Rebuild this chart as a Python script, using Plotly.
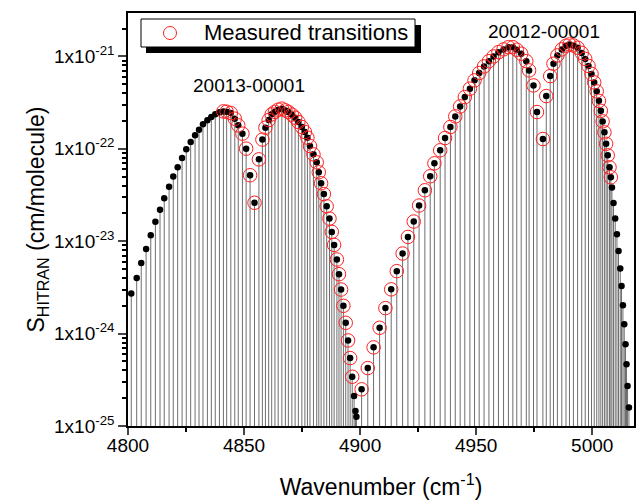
import plotly.graph_objects as go

# ---- data (wavenumber in cm-1, log10 of S in cm/molecule) ----
band1_wn = [4801.4, 4803.75, 4805.7, 4807.8, 4809.8, 4811.8, 4813.8, 4815.6, 4817.7, 4819.5,
            4821.4, 4823.3, 4825.1, 4827.0, 4828.9, 4830.6, 4832.3, 4834.2, 4835.9, 4837.6,
            4839.4, 4841.1, 4842.5, 4844.3, 4846.0, 4847.5, 4849.3, 4850.9, 4852.6, 4854.5,
            4856.4, 4857.9, 4859.2, 4860.6, 4861.9, 4863.3, 4864.7, 4866.3, 4867.8, 4869.1,
            4870.6, 4872.0, 4873.4, 4874.9, 4876.2, 4877.3, 4878.4, 4879.9, 4881.3, 4882.2,
            4883.2, 4884.4, 4885.6, 4886.8, 4887.8, 4888.8, 4890.0, 4890.9, 4891.8, 4892.8,
            4893.8, 4894.8, 4895.7, 4896.6, 4897.4, 4898.0, 4898.4]
band1_log_s = [-23.565, -23.397, -23.235, -23.083, -22.935, -22.79, -22.66, -22.535, -22.41, -22.30,
               -22.20, -22.10, -22.005, -21.926, -21.854, -21.793, -21.735, -21.692, -21.656, -21.627,
               -21.605, -21.595, -21.598, -21.613, -21.674, -21.746, -21.836, -21.998, -22.286, -22.584,
               -22.114, -21.90, -21.771, -21.689, -21.627, -21.60, -21.576, -21.565, -21.584, -21.602,
               -21.63, -21.663, -21.71, -21.764, -21.818, -21.879, -21.97, -22.06, -22.146, -22.254,
               -22.373, -22.49, -22.622, -22.755, -22.899, -23.04, -23.198, -23.357, -23.523, -23.699,
               -23.883, -24.074, -24.265, -24.467, -24.676, -24.838, -24.90]
band1_measured = range(21, 64)   # indices of band-1 lines that were measured

band2_wn = [4900.65, 4903.3, 4905.8, 4908.4, 4910.9, 4913.4, 4915.8, 4918.3, 4920.6, 4923.1,
            4925.4, 4927.9, 4930.2, 4932.0, 4934.5, 4936.6, 4938.9, 4941.0, 4943.1, 4945.1,
            4947.3, 4949.3, 4951.3, 4953.4, 4955.5, 4957.5, 4959.6, 4961.8, 4963.9, 4965.8,
            4967.5, 4969.4, 4971.6, 4972.8, 4974.7, 4976.2, 4978.75, 4980.2, 4981.9, 4983.3,
            4985.0, 4986.9, 4988.7, 4990.2, 4991.9, 4993.7, 4995.47, 4996.98, 4998.41, 4999.70,
            5000.86, 5001.94, 5002.89, 5003.71, 5004.48, 5005.26, 5005.99, 5006.68, 5007.46, 5008.02,
            5008.5, 5009.18, 5009.91, 5010.65, 5011.34, 5012.07, 5012.63, 5013.23, 5013.79, 5014.35,
            5014.78, 5015.22, 5015.82]
band2_log_s = [-24.603, -24.373, -24.149, -23.937, -23.724, -23.521, -23.324, -23.133, -22.954, -22.787,
               -22.614, -22.449, -22.297, -22.157, -22.016, -21.883, -21.764, -21.649, -21.541, -21.44,
               -21.349, -21.259, -21.18, -21.108, -21.051, -21.0, -20.954, -20.924, -20.90, -20.90,
               -20.928, -20.971, -21.051, -21.151, -21.314, -21.602, -21.894, -21.429, -21.213, -21.079,
               -20.989, -20.924, -20.884, -20.87, -20.881, -20.906, -20.962, -21.027, -21.103, -21.189,
               -21.281, -21.378, -21.481, -21.589, -21.703, -21.822, -21.946, -22.070, -22.20, -22.308,
               -22.419, -22.586, -22.755, -22.924, -23.105, -23.295, -23.486, -23.692, -23.90, -24.114,
               -24.333, -24.568, -24.80]
band2_measured = range(0, 60)

x_ticks = [4800, 4850, 4900, 4950, 5000]
y_tick_exp = [-25, -24, -23, -22, -21]
band_labels = ["20013-00001", "20012-00001"]
legend_label = "Measured transitions"

# ---- build traces ----
all_wn = band1_wn + band2_wn
all_s = [10 ** v for v in band1_log_s + band2_log_s]
meas_wn = [band1_wn[i] for i in band1_measured] + [band2_wn[i] for i in band2_measured]
meas_s = [10 ** band1_log_s[i] for i in band1_measured] + [10 ** band2_log_s[i] for i in band2_measured]

stick_x, stick_y = [], []
for xv, yv in zip(all_wn, all_s):
    stick_x += [xv, xv, None]
    stick_y += [1e-27, yv, None]

FONT = "Arial, Liberation Sans, sans-serif"
RED = "#ff2020"

fig = go.Figure()
fig.add_trace(go.Scatter(x=stick_x, y=stick_y, mode="lines",
                         line=dict(color="#6e6e6e", width=1),
                         showlegend=False, hoverinfo="skip"))
fig.add_trace(go.Scatter(x=all_wn, y=all_s, mode="markers",
                         marker=dict(color="black", size=6.5),
                         showlegend=False, name="HITRAN"))
fig.add_trace(go.Scatter(x=meas_wn, y=meas_s, mode="markers",
                         marker=dict(symbol="circle-open", color=RED, size=13.5,
                                     line=dict(width=1, color=RED)),
                         showlegend=False, name=legend_label))

minor_y = [m * 10 ** e for e in range(-25, -20) for m in range(2, 10)]

# plot area in pixels: left 128, right 634, top 13, bottom 426
W_PLOT, H_PLOT, L, T = 506.0, 413.0, 128.0, 13.0
def px(xp):
    return (xp - L) / W_PLOT
def py(yp):
    return 1 - (yp - T) / H_PLOT

fig.update_layout(
    width=638, height=500,
    margin=dict(l=128, r=4, t=13, b=74),
    paper_bgcolor="white", plot_bgcolor="white",
    font=dict(family=FONT, color="black"),
    showlegend=False,
    xaxis=dict(range=[4800, 5018], tickvals=x_ticks, ticks="outside", ticklen=7, tickwidth=1.5,
               showline=True, linecolor="black", linewidth=1.5, mirror=True, automargin=False,
               showgrid=False, zeroline=False, tickfont=dict(size=19), ticklabelstandoff=-6,
               minor=dict(dtick=25, tick0=4800, ticks="outside", ticklen=4, tickwidth=1.5,
                          tickcolor="black", showgrid=False),
               title=dict(text="Wavenumber (cm<sup>-1</sup>)", font=dict(size=23), standoff=27)),
    yaxis=dict(type="log", range=[-25, -20.53],
               tickvals=[10 ** e for e in y_tick_exp],
               ticktext=["1x10<sup>%d</sup>" % e for e in y_tick_exp],
               ticks="outside", ticklen=8, tickwidth=1.5, automargin=False,
               showline=True, linecolor="black", linewidth=1.5, mirror=True,
               showgrid=False, zeroline=False, tickfont=dict(size=19),
               minor=dict(tickvals=minor_y, ticks="outside", ticklen=4, tickwidth=1.5,
                          tickcolor="black", showgrid=False),
               title=dict(text="S<sub>HITRAN</sub> (cm/molecule)", font=dict(size=23), standoff=3)),
    shapes=[
        # legend shadow and box
        dict(type="rect", xref="paper", yref="paper", x0=px(146), x1=px(421), y0=py(53), y1=py(25),
             fillcolor="black", line=dict(width=0), layer="above"),
        dict(type="rect", xref="paper", yref="paper", x0=px(141), x1=px(415), y0=py(47), y1=py(19),
             fillcolor="white", line=dict(width=1, color="black"), layer="above"),
        # legend symbol
        dict(type="circle", xref="paper", yref="paper", xsizemode="pixel", ysizemode="pixel",
             xanchor=px(170), yanchor=py(33), x0=-6.5, x1=6.5, y0=-6.5, y1=6.5,
             line=dict(color=RED, width=1), fillcolor="rgba(0,0,0,0)", layer="above"),
    ],
    annotations=[
        dict(xref="paper", yref="paper", x=px(202), y=py(33), text=legend_label, showarrow=False,
             xanchor="left", yanchor="middle", font=dict(size=22)),
        dict(x=4852.2, y=-21.31, text=band_labels[0], showarrow=False, font=dict(size=19)),
        dict(x=4979.3, y=-20.73, text=band_labels[1], showarrow=False, font=dict(size=19)),
    ],
)

fig.write_html("out.html", config={"displayModeBar": False},
               post_script="document.body.style.margin='0';document.body.style.padding='0';")
